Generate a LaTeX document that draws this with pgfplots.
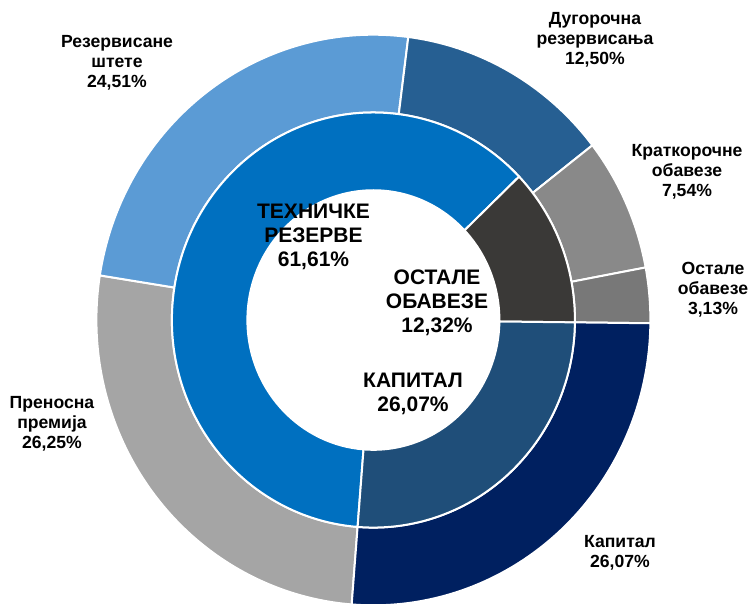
\documentclass[border=0pt]{standalone}
\usepackage{fontspec}
\setmainfont{Liberation Sans}
\usepackage{pgfplots}
\pgfplotsset{compat=1.18}

% inner ring
\definecolor{tehin}{HTML}{0070C0}
\definecolor{ostin}{HTML}{3A3937}
\definecolor{kapin}{HTML}{1F4E79}
% outer ring
\definecolor{prenos}{HTML}{A5A5A5}
\definecolor{rezerv}{HTML}{5B9BD5}
\definecolor{dugor}{HTML}{265F92}
\definecolor{krat}{HTML}{898989}
\definecolor{ostout}{HTML}{787878}
\definecolor{kapout}{HTML}{002060}

\newcommand{\xu}{0.5pt}
\newcommand{\yu}{0.515pt}
\xdef\curang{265.5}
% \seg{inner r}{outer r}{percent}{colour}, clockwise from \curang
\newcommand{\seg}[4]{%
  \pgfmathsetmacro\aone{\curang}%
  \pgfmathsetmacro\atwo{\curang-3.6*#3}%
  \xdef\curang{\atwo}%
  \edef\segcmd{\noexpand\fill[#4, draw=white, line width=1pt, line join=round]
    (axis cs:{#1*cos(\aone)},{#1*sin(\aone)}) --
    (axis cs:{#2*cos(\aone)},{#2*sin(\aone)})
    arc[start angle=\aone, end angle=\atwo, x radius=#2*\xu, y radius=#2*\yu] --
    (axis cs:{#1*cos(\atwo)},{#1*sin(\atwo)})
    arc[start angle=\atwo, end angle=\aone, x radius=#1*\xu, y radius=#1*\yu] -- cycle;}%
  \segcmd}

\begin{document}
\begin{tikzpicture}
\begin{axis}[
    x=\xu, y=\yu,
    xmin=-373.4, xmax=382.6,
    ymin=-274.8, ymax=310.7,
    hide axis,
    clip=false,
]
\coordinate (bl) at (rel axis cs:0,0);
\coordinate (tr) at (rel axis cs:1,1);

% outer ring
\xdef\curang{265.5}
\seg{201.5}{277}{26.25}{prenos}
\seg{201.5}{277}{24.51}{rezerv}
\seg{201.5}{277}{12.50}{dugor}
\seg{201.5}{277}{7.54}{krat}
\seg{201.5}{277}{3.13}{ostout}
\seg{201.5}{277}{26.07}{kapout}

% inner ring
\xdef\curang{265.5}
\seg{126}{201.5}{61.61}{tehin}
\seg{126}{201.5}{12.32}{ostin}
\seg{126}{201.5}{26.07}{kapin}

\tikzset{outlbl/.style={align=center, font=\bfseries\fontsize{8.8}{10}\selectfont},
         inlbl/.style={align=center, font=\bfseries\fontsize{10.5}{12}\selectfont}}
\node[outlbl] at (axis cs:-256.4,249.5) {Резервисане\\штете\\24,51\%};
\node[outlbl] at (axis cs:221.6,271.8) {Дугорочна\\резервисања\\12,50\%};
\node[outlbl] at (axis cs:313.6,143.7) {Краткорочне\\обавезе\\7,54\%};
\node[outlbl] at (axis cs:339.6,29.1) {Остале\\обавезе\\3,13\%};
\node[outlbl] at (axis cs:246.6,-226.2) {Капитал\\26,07\%};
\node[outlbl] at (axis cs:-321.4,-101) {Преносна\\премија\\26,25\%};

\node[inlbl] at (axis cs:-59.9,80.6) {ТЕХНИЧКЕ\\РЕЗЕРВЕ\\61,61\%};
\node[inlbl] at (axis cs:63.6,16.5) {ОСТАЛЕ\\ОБАВЕЗЕ\\12,32\%};
\node[inlbl] at (axis cs:39.6,-71.8) {КАПИТАЛ\\26,07\%};
\end{axis}
\pgfresetboundingbox
\path (bl) rectangle (tr);
\end{tikzpicture}
\end{document}
